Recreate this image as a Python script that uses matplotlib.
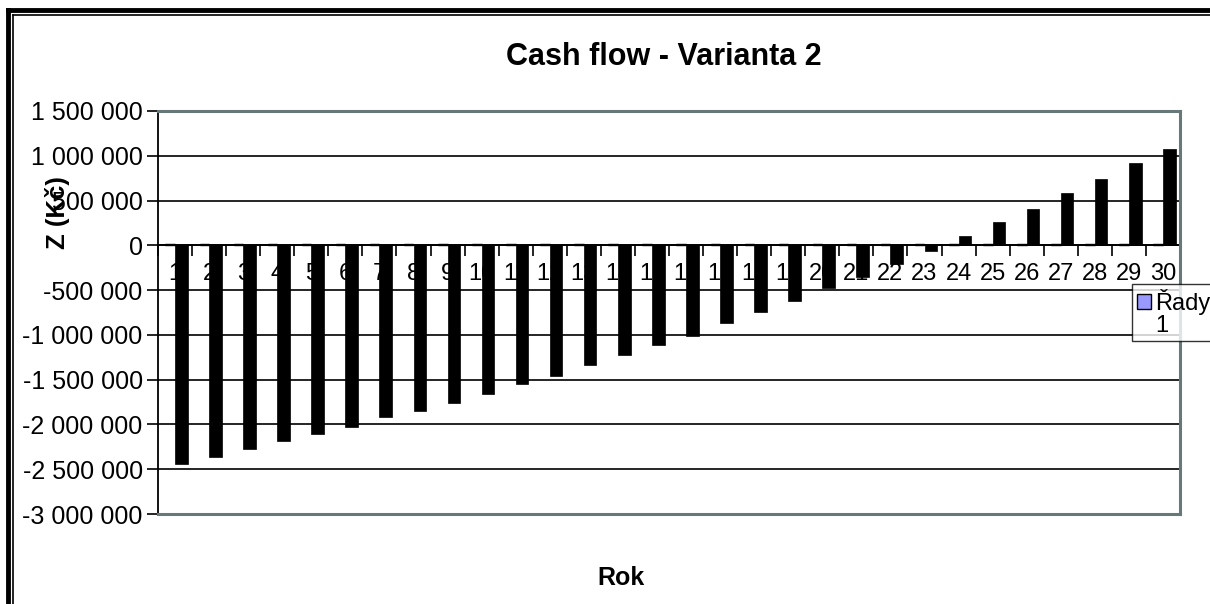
import matplotlib
matplotlib.use("Agg")
import matplotlib.pyplot as plt
from matplotlib.ticker import FuncFormatter, FixedLocator
from matplotlib.lines import Line2D
from matplotlib.patches import Patch
import numpy as np

plt.rcParams['font.family'] = ['Liberation Sans', 'DejaVu Sans']

# ---- data ----
years = list(range(1, 31))
cash_flow = [-2440000, -2360000, -2270000, -2190000, -2110000, -2030000, -1920000,
             -1845000, -1755000, -1655000, -1545000, -1457000, -1340000, -1227000,
             -1110000, -1008000, -870000, -740000, -624000, -479000, -349000,
             -208000, -66000, 105000, 260000, 410000, 585000, 740000, 915000, 1080000]
rady1 = [12000] * 30
legend_lines = ["Řady", "1"]
title = "Cash flow - Varianta 2"
xlabel = "Rok"
ylabel = "Z (Kč)"
yticks = [1500000, 1000000, 500000, 0, -500000, -1000000, -1500000,
          -2000000, -2500000, -3000000]

W, H = 1210, 604
fig = plt.figure(figsize=(W / 100, H / 100), dpi=100)
fig.patch.set_facecolor('white')

# plot area in pixels
L, R, T, B = 158, 1180, 111, 514
ax = fig.add_axes([L / W, (H - B) / H, (R - L) / W, (B - T) / H])

x = np.array(years)
blue = ax.bar(x - 0.14, rady1, width=0.28, color='#9999FF', edgecolor='black',
              linewidth=1.0, zorder=3)
ax.bar(x + 0.185, cash_flow, width=0.37, color='black', edgecolor='black',
       linewidth=0.5, zorder=3)

ax.set_xlim(0.5, 30.5)
ax.set_ylim(-3000000, 1500000)

# y axis
ax.yaxis.set_major_locator(FixedLocator(yticks))
ax.yaxis.set_major_formatter(FuncFormatter(lambda v, p: f"{v:,.0f}".replace(',', ' ')))
ax.tick_params(axis='y', direction='out', length=8, width=1.2, color='black',
               labelsize=18, pad=3)
ax.grid(axis='y', color='black', linewidth=1.2, zorder=1)

# x axis at zero
for s in ['top', 'right']:
    ax.spines[s].set_visible(False)
ax.spines['bottom'].set_position(('data', 0))
ax.spines['bottom'].set_color('black')
ax.spines['bottom'].set_linewidth(1.3)
ax.spines['bottom'].set_zorder(4)
ax.spines['left'].set_color('black')
ax.spines['left'].set_linewidth(1.3)
ax.set_xticks(np.arange(0.5, 31, 1.0))
ax.set_xticklabels([])
ax.set_xticks(x, minor=True)
ax.set_xticklabels([str(v) for v in years], minor=True)
ax.tick_params(axis='x', which='major', direction='out', length=8, width=1.2, color='black')
ax.tick_params(axis='x', which='minor', length=0, labelsize=17, pad=13)

# gray plot border (top, right, bottom)
gray = '#687878'
for xs, ys in [([0, 1], [1, 1]), ([1, 1], [0, 1]), ([0, 1], [0, 0])]:
    ax.add_line(Line2D(xs, ys, transform=ax.transAxes, color=gray, linewidth=2.2,
                       clip_on=False, zorder=5))

# titles
fig.text(664 / W, 1 - 57 / H, title, ha='center', va='center', fontsize=22,
         fontweight='bold')
fig.text(621 / W, 1 - 578 / H, xlabel, ha='center', va='center', fontsize=18,
         fontweight='bold')
fig.text(58 / W, 1 - 213 / H, ylabel, ha='center', va='center', fontsize=18.5,
         fontweight='bold', rotation=90)

# legend
leg = fig.legend(handles=[blue, Patch(visible=False)], labels=legend_lines,
                 loc='upper left', bbox_to_anchor=(1132 / W, 1 - 284 / H),
                 fontsize=17, frameon=True, fancybox=False, handlelength=0.6,
                 handleheight=0.6, handletextpad=0.2, borderpad=0.2,
                 labelspacing=0.0, borderaxespad=0)
leg.get_frame().set_edgecolor('black')
leg.get_frame().set_linewidth(1.0)

# outer chart frame (double line on left and top)
fig.add_artist(Line2D([8 / W, 8 / W], [0, 1 - 10 / H], transform=fig.transFigure,
                      color='black', linewidth=3.5))
fig.add_artist(Line2D([8 / W, 1], [1 - 10 / H, 1 - 10 / H], transform=fig.transFigure,
                      color='black', linewidth=3.5))
fig.add_artist(Line2D([13 / W, 13 / W], [0, 1 - 15 / H], transform=fig.transFigure,
                      color='black', linewidth=1.2))
fig.add_artist(Line2D([13 / W, 1], [1 - 15 / H, 1 - 15 / H], transform=fig.transFigure,
                      color='black', linewidth=1.2))

fig.savefig('out.png', dpi=100)
